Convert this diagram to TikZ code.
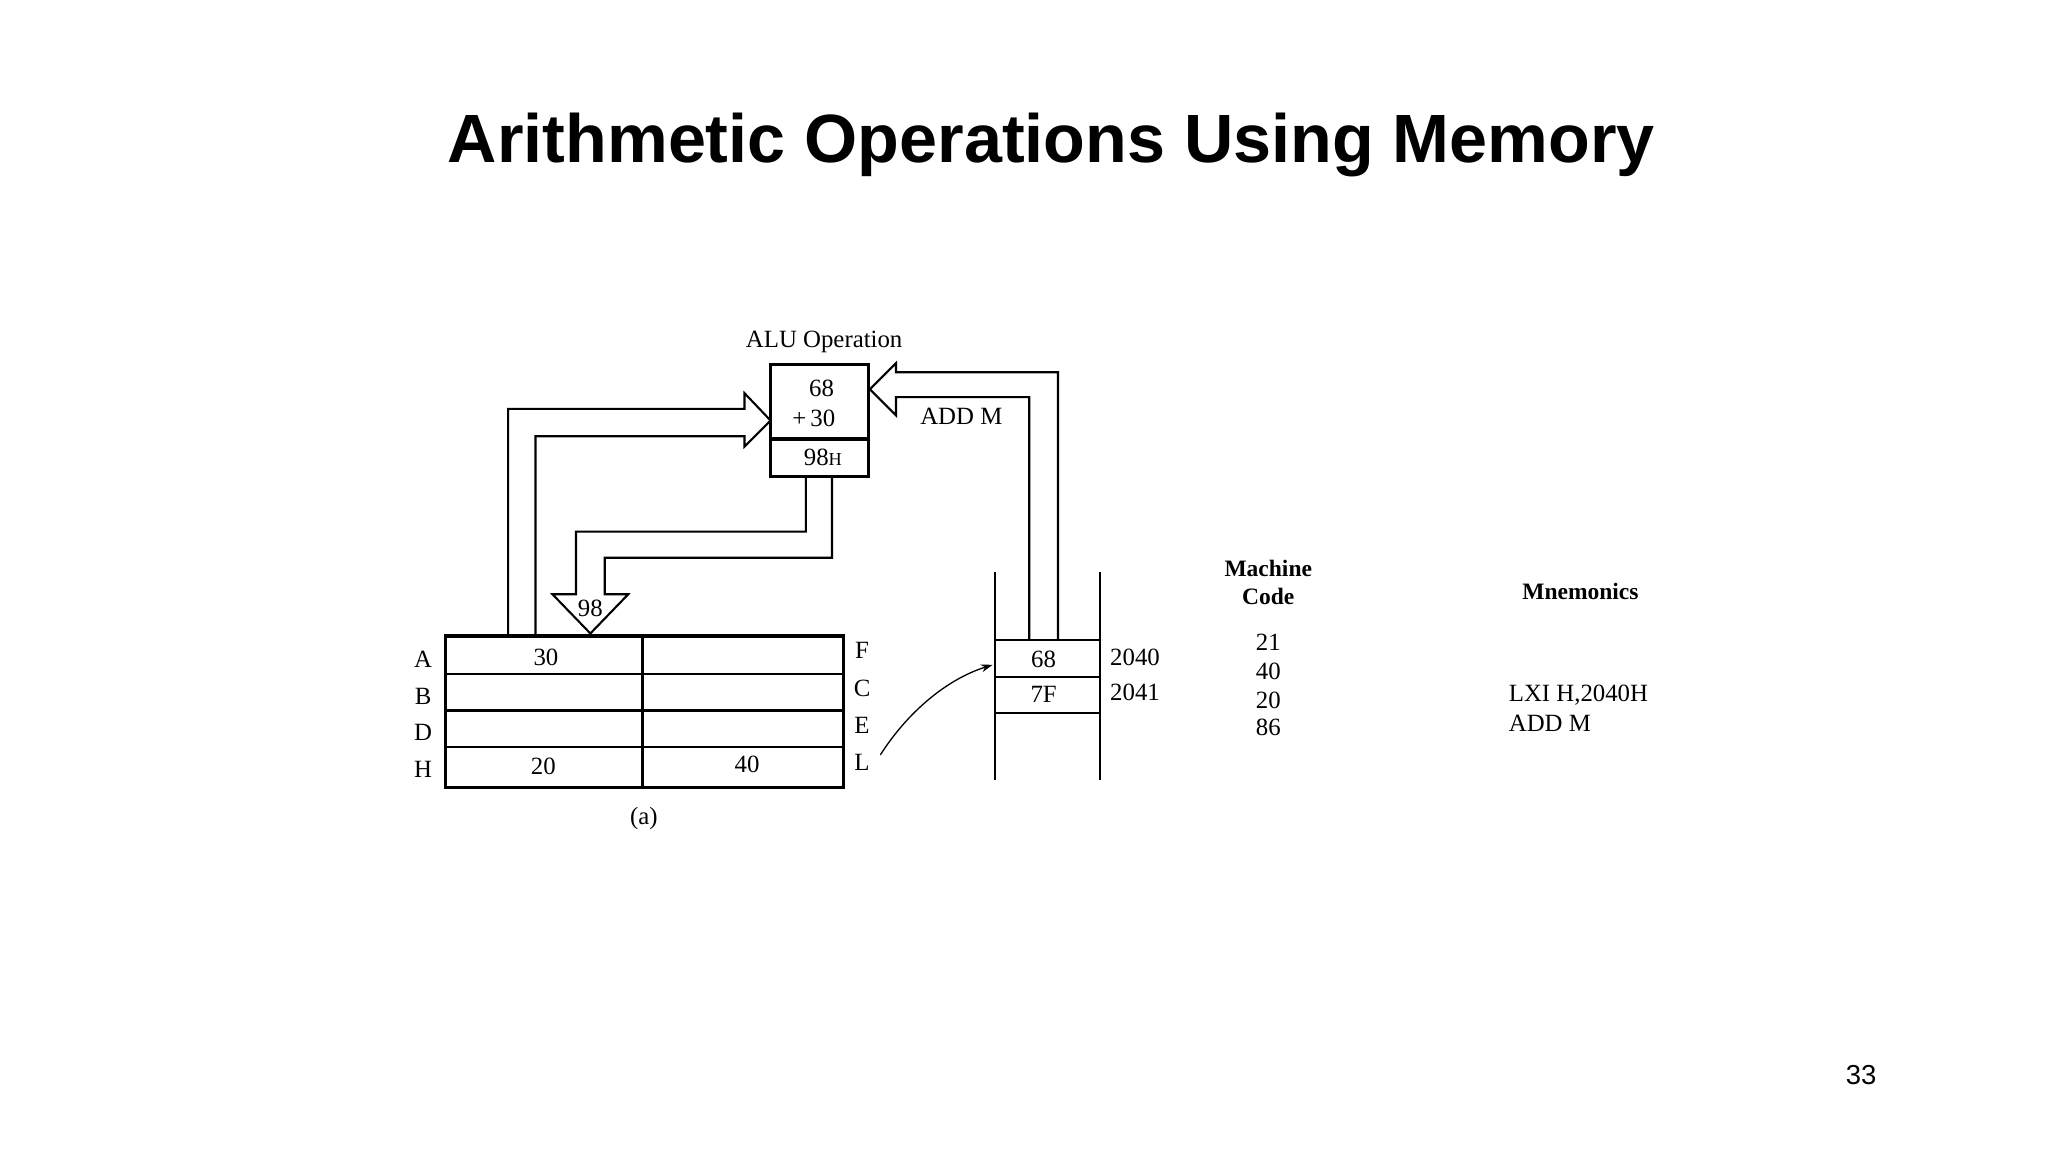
\documentclass[tikz,border=0pt]{standalone}
\usepackage{fontspec}
\setmainfont{Liberation Serif}
\newfontfamily\titlefont{Liberation Sans}
\usetikzlibrary{arrows.meta}
\begin{document}
\begin{tikzpicture}[x=1pt,y=-1pt,
  txt/.style={inner sep=0pt,font=\fontsize{19}{21}\selectfont},
  bx/.style={line width=2.6pt},
  ln/.style={line width=1.6pt,line join=miter}]
\useasboundingbox (0,0) rectangle (1568,882);
\node[font=\titlefont\bfseries\fontsize{52.3}{56}\selectfont] (title) at (805,111) {Arithmetic Operations Using Memory};
% register file
\draw[bx] (341,487) rectangle (646,603);
\draw[ln] (341,516) -- (646,516) (341,544) -- (646,544) (341,572) -- (646,572);
\draw[bx] (492,487) -- (492,603);
\foreach \l/\y in {A/505,B/533,D/561,H/589}{\node[txt] (r\l) at (324,\y) {\l};}
\foreach \l/\y in {F/498,C/527,E/555,L/584}{\node[txt] (r\l) at (660,\y) {\l};}
\node[txt] (v30) at (418,503) {30};
\node[txt] (v20) at (416,587) {20};
\node[txt] (v40) at (572,585) {40};
\node[txt] (cap) at (493,627) {(a)};
% ALU
\draw[bx] (590,279) rectangle (665,365);
\draw[bx] (590,336) -- (665,336);
\node[txt] (alu1) at (629,297) {68};
\node[txt] (alu2) at (623,320) {+\,30};
\node[txt] (alu3) at (630,350) {98{\fontsize{14}{15}\selectfont H}};
\node[txt] (alut) at (631,262) {ALU Operation};
\node[txt] (addm) at (736,319) {ADD M};
% arrow A -> ALU
\draw[ln] (389,487) -- (389,313) -- (570,313) -- (570,301) -- (590,322) -- (570,342) -- (570,334) -- (410,334) -- (410,487);
% arrow memory -> ALU
\draw[ln] (810,490) -- (810,285) -- (686,285) -- (686,278) -- (666,298) -- (686,318) -- (686,304) -- (788,304) -- (788,490);
% arrow ALU -> A
\draw[ln] (617,365) -- (617,407) -- (441,407) -- (441,455) -- (423,455) -- (452,485) -- (481,455) -- (463,455) -- (463,427) -- (637,427) -- (637,365);
\node[txt] (v98) at (452,466) {98};
% memory
\draw[ln] (762,438) -- (762,597) (842,438) -- (842,597);
\draw[ln] (762,490) -- (842,490) (762,518) -- (842,518) (762,546) -- (842,546);
\node[txt] (m1) at (799,505) {68};
\node[txt] (m2) at (799,532) {7F};
\node[txt] (a1) at (869,503) {2040};
\node[txt] (a2) at (869,530) {2041};
\coordinate (memtgt) at (760,509);
\draw[line width=1pt,-{Stealth[length=9pt,width=6pt]}] (674,578) .. controls (695,545) and (725,520) .. (memtgt);
% table
\node[txt,font=\bfseries\fontsize{18}{21}\selectfont,align=center] (mch) at (971,446) {Machine\\Code};
\node[txt,font=\bfseries\fontsize{18}{21}\selectfont] (mnh) at (1210,453) {Mnemonics};
\foreach \v/\y in {21/492,40/514,20/536,86/557}{\node[txt] (c\v) at (971,\y) {\v};}
\node[txt,anchor=west] (mn1) at (1155,532) {LXI H,2040H};
\node[txt,anchor=west] (mn2) at (1155,554) {ADD M};
\node[font=\titlefont\fontsize{21}{24}\selectfont] (pg) at (1425,823) {33};
\end{tikzpicture}
\end{document}
